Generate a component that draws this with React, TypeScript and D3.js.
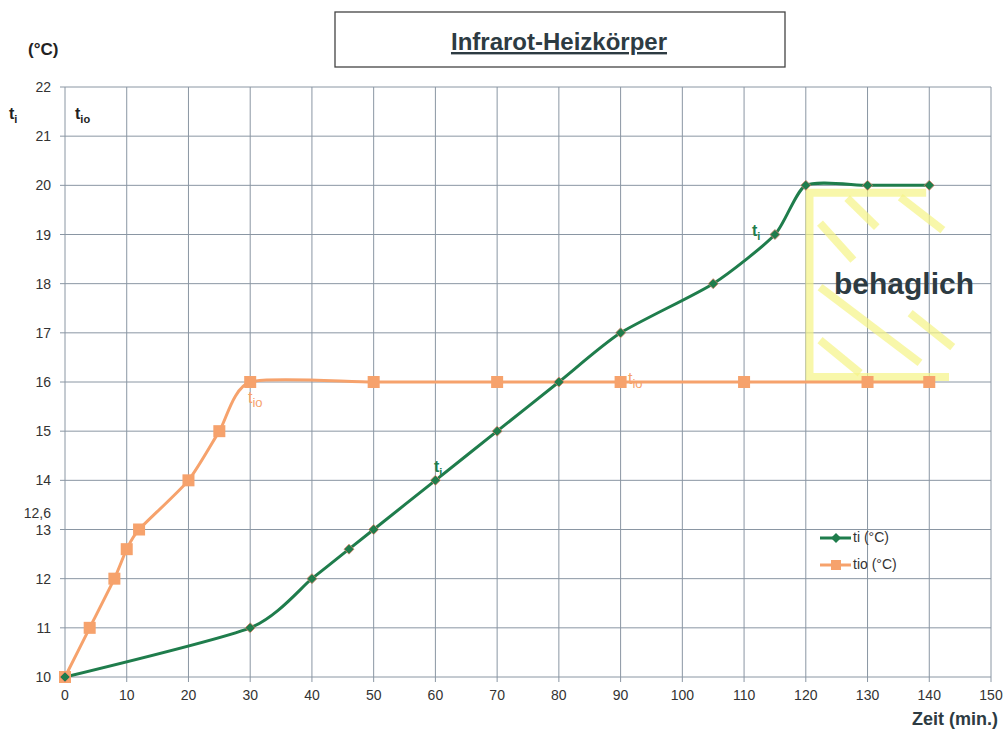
import React from "react";
import * as d3 from "d3";

// ---- data ----
const tiTime = [0, 30, 40, 46, 50, 60, 70, 80, 90, 105, 115, 120, 130, 140];
const tiTemp = [10, 11, 12, 12.6, 13, 14, 15, 16, 17, 18, 19, 20, 20, 20];
const tioTime = [0, 4, 8, 10, 12, 20, 25, 30, 50, 70, 90, 110, 130, 140];
const tioTemp = [10, 11, 12, 12.6, 13, 14, 15, 16, 16, 16, 16, 16, 16, 16];
const xTicks = [0, 10, 20, 30, 40, 50, 60, 70, 80, 90, 100, 110, 120, 130, 140, 150];
const yTicks = [10, 11, 12, 13, 14, 15, 16, 17, 18, 19, 20, 21, 22];
// comfort zone outline (time, temp) and hatch strokes
const zoneOutline: [number, number][] = [[139.5, 19.85], [120.6, 19.85], [120.6, 16.1], [143.2, 16.1]];
const hatch: [number, number, number, number][] = [
  [126.7, 19.74, 131.5, 19.15],
  [135.3, 19.76, 142.2, 19.09],
  [122.3, 19.23, 127.7, 18.48],
  [122.3, 17.93, 138.5, 16.39],
  [136.9, 17.4, 143.8, 16.71],
  [122.3, 16.85, 128.8, 16.18],
];

const W = 1006, H = 731;
const M = { left: 65, right: 991, top: 87, bottom: 677 };
const FONT = "Liberation Sans, Arial, sans-serif";
const GREEN = "#1f7d4c";
const ORANGE = "#f6a26c";
const GRID = "#8a96a3";
const DARK = "#2d3b42";

export default function App() {
  const x = d3.scaleLinear().domain([0, 150]).range([M.left, M.right]);
  const y = d3.scaleLinear().domain([10, 22]).range([M.bottom, M.top]);
  const line = d3
    .line<[number, number]>()
    .x((d) => x(d[0]))
    .y((d) => y(d[1]))
    .curve(d3.curveCardinal.tension(0.35));
  const tiPts = tiTime.map((t, i) => [t, tiTemp[i]] as [number, number]);
  const tioPts = tioTime.map((t, i) => [t, tioTemp[i]] as [number, number]);
  const zoneLine = d3
    .line<[number, number]>()
    .x((d) => x(d[0]))
    .y((d) => y(d[1]));

  return (
    <svg width={W} height={H} style={{ position: "absolute", left: 0, top: 0, background: "#fff" }} fontFamily={FONT}>
      {/* title box */}
      <rect x={335} y={12} width={450} height={55} fill="#fff" stroke="#444" strokeWidth={1.3} />
      <text x={559} y={50} textAnchor="middle" fontSize={24} fontWeight="bold" fill={DARK} textDecoration="underline">
        Infrarot-Heizkörper
      </text>

      {/* grid */}
      {xTicks.map((t) => (
        <line key={"gx" + t} x1={x(t)} x2={x(t)} y1={M.top} y2={M.bottom + 5} stroke={GRID} strokeWidth={1} />
      ))}
      {yTicks.map((t) => (
        <line key={"gy" + t} x1={M.left - 5} x2={M.right} y1={y(t)} y2={y(t)} stroke={GRID} strokeWidth={1} />
      ))}

      {/* tick labels */}
      {xTicks.map((t) => (
        <text key={"tx" + t} x={x(t)} y={M.bottom + 23} textAnchor="middle" fontSize={14} fill="#333">
          {t}
        </text>
      ))}
      {yTicks.map((t) => (
        <text key={"ty" + t} x={M.left - 14} y={y(t) + 5} textAnchor="end" fontSize={14} fill="#333">
          {t}
        </text>
      ))}
      <text x={M.left - 14} y={y(13.33) + 5} textAnchor="end" fontSize={14} fill="#333">12,6</text>

      {/* axis labels */}
      <text x={28} y={55} fontSize={17} fontWeight="bold" fill="#222">(°C)</text>
      <text x={9} y={119} fontSize={16} fontWeight="bold" fill="#222">
        t<tspan fontSize={11} dy={4}>i</tspan>
      </text>
      <text x={75} y={119} fontSize={16} fontWeight="bold" fill="#222">
        t<tspan fontSize={11} dy={4}>io</tspan>
      </text>
      <text x={998} y={725} textAnchor="end" fontSize={18} fontWeight="bold" fill={DARK}>Zeit (min.)</text>

      {/* comfort zone */}
      <g stroke="#f5f386" strokeOpacity={0.7} strokeWidth={8} fill="none" strokeLinecap="butt">
        <path d={zoneLine(zoneOutline) || ""} />
        {hatch.map((h, i) => (
          <line key={"h" + i} x1={x(h[0])} y1={y(h[1])} x2={x(h[2])} y2={y(h[3])} />
        ))}
      </g>
      <text x={904} y={294} textAnchor="middle" fontSize={30} fontWeight="bold" fill={DARK}>behaglich</text>

      {/* series */}
      <path d={line(tioPts) || ""} fill="none" stroke={ORANGE} strokeWidth={3} />
      <path d={line(tiPts) || ""} fill="none" stroke={GREEN} strokeWidth={3} />
      {tioPts.map((p, i) => (
        <rect key={"so" + i} x={x(p[0]) - 6} y={y(p[1]) - 6} width={12} height={12} fill={ORANGE} />
      ))}
      {tiPts.map((p, i) => (
        <path
          key={"sg" + i}
          d={`M${x(p[0])},${y(p[1]) - 5}L${x(p[0]) + 5},${y(p[1])}L${x(p[0])},${y(p[1]) + 5}L${x(p[0]) - 5},${y(p[1])}Z`}
          fill={GREEN}
          stroke="#d9826a"
          strokeWidth={0.8}
        />
      ))}

      {/* annotations */}
      <text x={434} y={472} fontSize={16} fontWeight="bold" fill={GREEN}>
        t<tspan fontSize={11} dy={4}>i</tspan>
      </text>
      <text x={752} y={236} fontSize={16} fontWeight="bold" fill={GREEN}>
        t<tspan fontSize={11} dy={4}>i</tspan>
      </text>
      <text x={248} y={403} fontSize={16} fill={ORANGE}>
        t<tspan fontSize={13} dy={4}>io</tspan>
      </text>
      <text x={628} y={384} fontSize={16} fill={ORANGE}>
        t<tspan fontSize={13} dy={4}>io</tspan>
      </text>

      {/* legend */}
      <line x1={820} x2={851} y1={538} y2={538} stroke={GREEN} strokeWidth={3} />
      <path d="M836,533L841,538L836,543L831,538Z" fill={GREEN} />
      <text x={853} y={542} fontSize={14} fill="#333">ti (°C)</text>
      <line x1={820} x2={851} y1={565} y2={565} stroke={ORANGE} strokeWidth={3} />
      <rect x={831} y={560} width={10} height={10} fill={ORANGE} />
      <text x={853} y={569} fontSize={14} fill="#333">tio (°C)</text>
    </svg>
  );
}
